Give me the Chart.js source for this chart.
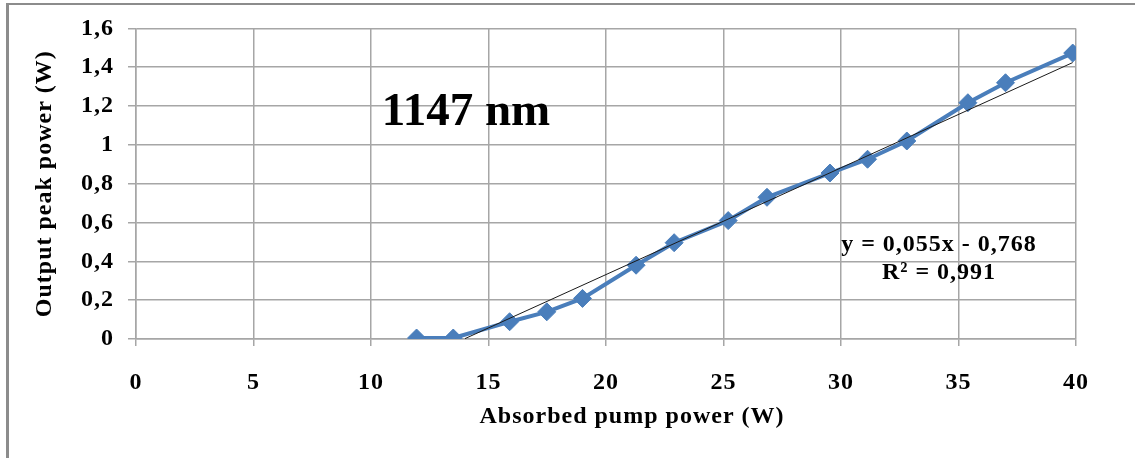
<!DOCTYPE html>
<html>
<head>
<meta charset="utf-8">
<script src="https://cdn.jsdelivr.net/npm/chart.js@4.4.1/dist/chart.umd.min.js"></script>
<style>
  html, body { margin: 0; padding: 0; background: #fff; }
  #wrap { position: relative; width: 1135px; height: 458px; }
  #frame { position: absolute; left: 6px; top: 3px; right: 0; bottom: 0;
           border-top: 2px solid #8c8c8c; border-left: 3px solid #8c8c8c; pointer-events: none; }
  canvas { position: absolute; left: 0; top: 0; }
</style>
</head>
<body>
<div id="wrap">
  <canvas id="chart" width="1135" height="458"></canvas>
  <div id="frame"></div>
</div>
<script>
// Données
const absorbedPump = [11.94, 13.5, 15.9, 17.48, 19.0, 21.28, 22.9, 25.2, 26.85, 29.53, 31.13, 32.8, 35.4, 37.0, 39.86];
const peakPower    = [0.005, 0.005, 0.089, 0.14, 0.209, 0.38, 0.496, 0.61, 0.73, 0.855, 0.926, 1.02, 1.217, 1.32, 1.473];

// Droite de tendance (extrémités)
const trendX = [14.0, 39.86];
const trendY = [0.002, 1.424];

const xTickLabels = ['0', '5', '10', '15', '20', '25', '30', '35', '40'];
const yTickLabels = ['0', '0,2', '0,4', '0,6', '0,8', '1', '1,2', '1,4', '1,6'];

const xTitle = 'Absorbed pump power (W)';
const yTitle = 'Output peak power (W)';
const wavelengthLabel = '1147 nm';
const equationLines = ['y = 0,055x - 0,768', 'R² = 0,991'];

const serif = "'Liberation Serif', 'Times New Roman', serif";
const gridColor = '#a6a6a6';

// Textes ajoutés : titre X, étiquette et équation
const annotationsPlugin = {
  id: 'annotations',
  beforeDraw(chart) {
    chart.ctx.letterSpacing = '1px';
  },
  afterDatasetsDraw(chart) {
    const { ctx, scales: { x, y } } = chart;
    ctx.save();
    ctx.fillStyle = '#000';

    ctx.letterSpacing = '1px';
    ctx.font = `bold 24px ${serif}`;
    ctx.textAlign = 'center';
    ctx.textBaseline = 'middle';
    ctx.fillText(xTitle, 632, 417);
    ctx.fillText(equationLines[0], x.getPixelForValue(34.17), y.getPixelForValue(0.485));
    ctx.fillText(equationLines[1], x.getPixelForValue(34.17), y.getPixelForValue(0.341));

    ctx.letterSpacing = '0px';
    ctx.font = `bold 47px ${serif}`;
    ctx.textAlign = 'left';
    ctx.textBaseline = 'alphabetic';
    ctx.fillText(wavelengthLabel, x.getPixelForValue(10.46), y.getPixelForValue(1.103));
    ctx.restore();
  }
};

const ctx = document.getElementById('chart').getContext('2d');
new Chart(ctx, {
  type: 'scatter',
  data: {
    datasets: [
      {
        label: 'Linéaire',
        data: trendX.map((v, i) => ({ x: v, y: trendY[i] })),
        showLine: true,
        borderColor: '#1a1a1a',
        borderWidth: 1,
        pointRadius: 0
      },
      {
        label: 'Puissance crête',
        data: absorbedPump.map((v, i) => ({ x: v, y: peakPower[i] })),
        showLine: true,
        borderColor: '#4a7ebb',
        borderWidth: 4,
        pointStyle: 'rectRot',
        pointRadius: 9,
        pointBackgroundColor: '#4a7ebb',
        pointBorderColor: '#4a7ebb',
        pointBorderWidth: 1
      }
    ]
  },
  options: {
    responsive: false,
    animation: false,
    layout: { padding: { top: 27, right: 59, left: 0, bottom: 0 } },
    plugins: { legend: { display: false }, tooltip: { enabled: false } },
    scales: {
      x: {
        type: 'linear',
        min: 0, max: 40,
        afterFit(scale) { scale.height = 119; },
        ticks: {
          stepSize: 5,
          color: '#000',
          padding: 22,
          maxRotation: 0,
          font: { family: serif, size: 24, weight: 'bold' },
          callback: (v, i) => xTickLabels[i]
        },
        grid: { color: gridColor, lineWidth: 1.5, tickLength: 7 },
        border: { color: gridColor, width: 1.5 }
      },
      y: {
        type: 'linear',
        min: 0, max: 1.6,
        afterFit(scale) { scale.width = 136; },
        ticks: {
          stepSize: 0.2,
          color: '#000',
          padding: 14,
          font: { family: serif, size: 24, weight: 'bold' },
          callback: (v, i) => yTickLabels[i]
        },
        grid: { color: gridColor, lineWidth: 1.5, tickLength: 8 },
        border: { color: gridColor, width: 1.5 },
        title: {
          display: true,
          text: yTitle,
          color: '#000',
          font: { family: serif, size: 24, weight: 'bold' },
          padding: { top: 30, bottom: 0 }
        }
      }
    }
  },
  plugins: [annotationsPlugin]
});
</script>
</body>
</html>
